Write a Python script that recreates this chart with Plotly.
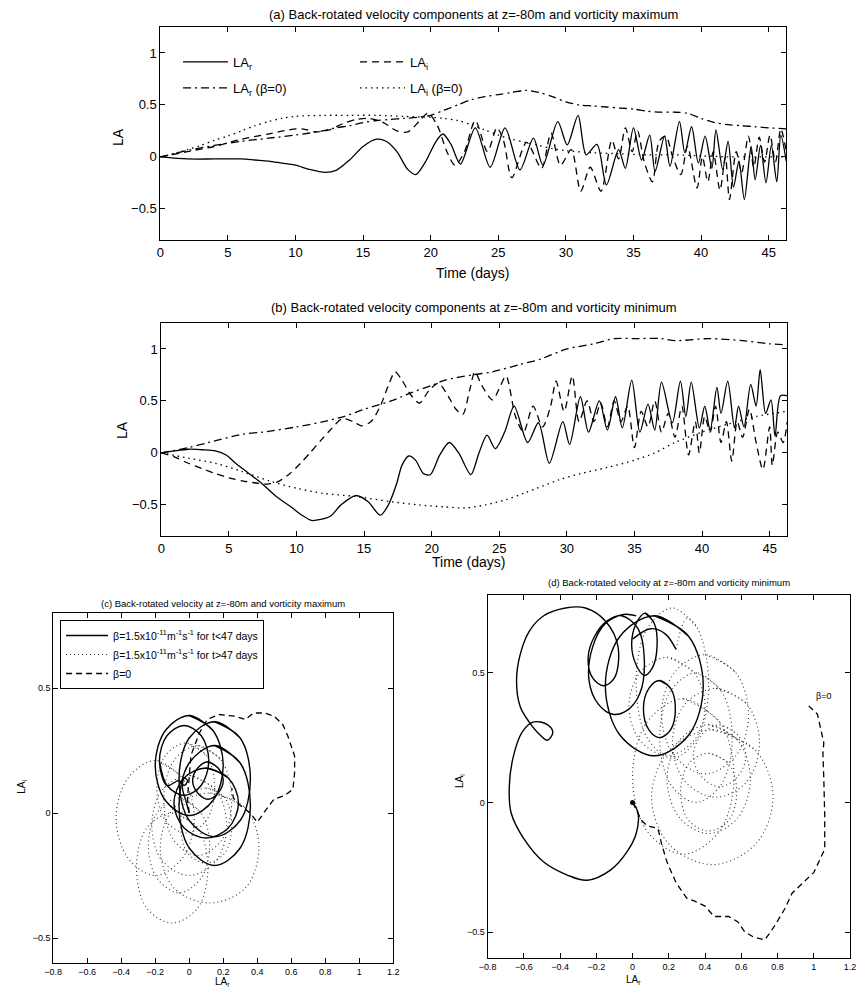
import plotly.graph_objects as go

W, H = 862, 993
FONT = "Liberation Sans, Arial, Helvetica, sans-serif"

# ---------------- (a) vorticity maximum: back-rotated components vs time ----------------
a_r_t = [0, 2, 4, 6, 7, 8, 9, 10, 11, 12.2, 13, 14, 15, 16, 16.7, 17.5, 18.3, 18.9, 19.6, 20.4,
         20.9, 21.5, 22.2, 23.3, 24.4, 25.5, 26.6, 27.6, 28.3, 29.4, 30.1, 30.9, 31.5, 32.3, 33.0,
         33.9, 34.4, 35.0, 35.6, 36.2, 36.6, 37.3, 37.7, 38.4, 38.8, 39.3, 39.8, 40.3, 40.8, 41.1,
         41.6, 42.0, 42.4, 42.8, 43.2, 43.7, 44.0, 44.4, 44.8, 45.2, 45.6, 45.9, 46.3]
a_r = [0, -0.02, -0.02, -0.02, -0.03, -0.04, -0.06, -0.08, -0.12, -0.15, -0.13, -0.03, 0.1, 0.17,
       0.15, 0.05, -0.12, -0.17, -0.05, 0.15, 0.22, 0.12, -0.07, 0.28, -0.1, 0.28, -0.125, 0.18,
       -0.08, 0.34, 0.115, 0.4, 0.02, 0.12, -0.27, 0.07, -0.11, 0.28, -0.03, 0.21, -0.14, 0.2,
       -0.09, 0.34, 0.04, 0.29, -0.06, 0.2, -0.11, 0.26, -0.12, 0.15, -0.29, -0.04, -0.41, 0.1,
       -0.22, 0.11, -0.25, 0.11, -0.24, 0.21, -0.04]

a_i_t = [0, 2, 4, 6, 8, 9.5, 10.5, 11.5, 12.5, 13.5, 14.5, 15.5, 16.5, 17.5, 18.3, 19.2, 19.8,
         20.5, 21.2, 21.8, 22.5, 23.3, 24.2, 24.9, 25.4, 26.0, 27.1, 28.2, 28.9, 29.6, 30.4, 31.1,
         31.8, 32.6, 33.4, 33.9, 34.4, 34.9, 35.3, 35.8, 36.4, 36.9, 37.4, 37.9, 38.5, 39.0, 39.7,
         40.1, 40.5, 40.9, 41.4, 41.8, 42.1, 42.6, 43.0, 43.5, 43.9, 44.3, 44.7, 45.1, 45.5, 45.9,
         46.3]
a_i = [0, 0.05, 0.1, 0.17, 0.22, 0.26, 0.27, 0.24, 0.26, 0.32, 0.36, 0.37, 0.33, 0.25, 0.24,
       0.35, 0.42, 0.3, 0.05, -0.08, 0.05, 0.35, 0.05, 0.28, 0.15, -0.2, 0.14, -0.11, 0.23, -0.08,
       0.07, -0.33, -0.1, -0.33, 0.16, -0.02, 0.28, 0.05, 0.25, -0.05, -0.24, 0.15, 0.2, 0.0,
       -0.17, 0.1, -0.3, 0.0, -0.24, 0.05, -0.32, 0.0, -0.41, 0.05, -0.15, 0.2, -0.1, 0.19, -0.05,
       0.21, -0.05, 0.27, 0.05]

a_r0_t = [0, 2, 4, 6, 8, 10, 12, 13, 14, 15, 16, 17, 18, 19, 20, 21, 22, 23, 24, 25, 26, 27, 28,
          29, 30, 31, 32, 33, 34, 35, 36, 37, 38, 39, 40, 41, 42, 43, 44, 45, 46.3]
a_r0 = [0, 0.06, 0.11, 0.15, 0.18, 0.21, 0.25, 0.28, 0.3, 0.33, 0.35, 0.36, 0.37, 0.38, 0.4, 0.45,
        0.5, 0.55, 0.58, 0.6, 0.62, 0.64, 0.62, 0.58, 0.53, 0.5, 0.49, 0.48, 0.47, 0.46, 0.44,
        0.43, 0.43, 0.42, 0.37, 0.33, 0.31, 0.3, 0.29, 0.28, 0.27]

a_i0_t = [0, 1, 2, 3, 4, 5, 6, 7, 8, 9, 10, 12, 14, 16, 18, 20, 21, 22, 23, 24, 25, 26, 27, 28,
          29, 30, 32, 34, 36, 38, 40, 42, 44, 46.3]
a_i0 = [0, 0.03, 0.07, 0.11, 0.16, 0.2, 0.25, 0.3, 0.34, 0.37, 0.39, 0.4, 0.4, 0.4, 0.39, 0.38,
        0.37, 0.35, 0.31, 0.26, 0.21, 0.17, 0.14, 0.11, 0.08, 0.06, 0.04, 0.03, 0.02, 0.02, 0.01,
        0.0, 0.0, 0.0]

# ---------------- (b) vorticity minimum ----------------
b_r_t = [0, 1, 2, 3, 4, 4.8, 5.5, 6.5, 7.4, 8.5, 9.6, 10.4, 11.1, 11.8, 12.5, 13.3, 14.4, 15.3,
         16.2, 16.8, 17.4, 17.8, 18.3, 18.8, 19.4, 19.9, 20.6, 21.3, 22.0, 22.9, 23.5, 24.1, 24.7,
         25.4, 26.1, 27.1, 27.9, 28.7, 29.7, 30.2, 31.0, 31.6, 32.4, 33.0, 33.6, 34.1, 34.8, 35.4,
         36.0, 36.5, 37.0, 37.8, 38.4, 38.8, 39.2, 39.8, 40.2, 40.6, 41.1, 41.4, 41.9, 42.4, 42.7,
         43.1, 43.6, 44.0, 44.3, 44.7, 45.1, 45.4, 45.8, 46.3]
b_r = [0, 0.02, 0.035, 0.03, 0.02, -0.02, -0.1, -0.2, -0.29, -0.42, -0.52, -0.6, -0.65, -0.64,
       -0.61, -0.5, -0.41, -0.47, -0.6, -0.5, -0.3, -0.12, -0.03, -0.07, -0.2, -0.21, -0.02, 0.1,
       0.0, -0.21, 0.0, 0.17, 0.04, 0.2, 0.45, 0.1, 0.29, -0.1, 0.3, 0.08, 0.54, 0.2, 0.5, 0.22,
       0.54, 0.24, 0.7, 0.2, 0.47, 0.22, 0.68, 0.29, 0.69, 0.35, 0.68, 0.24, 0.45, 0.22, 0.63,
       0.38, 0.69, 0.24, 0.45, 0.25, 0.66, 0.45, 0.8, 0.38, 0.51, 0.16, 0.55, 0.55]

b_i_t = [0, 1, 2, 3, 4, 5, 6, 7, 7.8, 8.6, 9.5, 10.3, 11, 11.8, 12.5, 13.4, 14.2, 14.8, 15.5,
         16.2, 16.8, 17.3, 17.8, 18.5, 19.1, 19.8, 20.5, 21.2, 21.8, 22.3, 22.8, 23.2, 23.7, 24.5,
         25.0, 25.5, 26.2, 26.8, 27.5, 28.2, 28.8, 29.2, 29.8, 30.4, 30.9, 31.5, 32.0, 32.5, 33.0,
         33.5, 34.0, 34.5, 35.0, 35.5, 36.0, 36.5, 37.0, 37.5, 38.0, 38.5, 39.0, 39.5, 39.8, 40.2,
         40.6, 41.0, 41.4, 41.8, 42.2, 42.6, 43.0, 43.5, 44.0, 44.5, 45.0, 45.2, 45.6, 46.0, 46.3]
b_i = [0, -0.04, -0.1, -0.15, -0.2, -0.24, -0.27, -0.29, -0.3, -0.28, -0.2, -0.1, 0.0, 0.12,
       0.22, 0.33, 0.3, 0.26, 0.3, 0.45, 0.65, 0.78, 0.7, 0.55, 0.48, 0.6, 0.67, 0.55, 0.42, 0.37,
       0.6, 0.78, 0.65, 0.51, 0.62, 0.74, 0.35, 0.2, 0.45, 0.25, 0.45, 0.69, 0.4, 0.74, 0.3, 0.5,
       0.3, 0.48, 0.25, 0.5, 0.3, 0.45, 0.05, 0.4, 0.25, 0.5, 0.2, 0.38, 0.15, 0.45, -0.02, 0.3,
       0.0, 0.35, 0.2, 0.45, 0.1, 0.3, -0.08, 0.3, 0.15, 0.42, 0.1, -0.16, 0.25, -0.12, 0.2, 0.1,
       0.3]

b_r0_t = [0, 2, 3.5, 6, 7.5, 10, 12, 13.5, 15, 17, 18.5, 20, 21, 23, 24.5, 26.5, 28, 30, 32,
          33.5, 35, 37, 38, 40.5, 43, 45, 46.3]
b_r0 = [0, 0.05, 0.1, 0.18, 0.2, 0.25, 0.3, 0.35, 0.42, 0.5, 0.58, 0.65, 0.7, 0.75, 0.78, 0.85,
        0.9, 1.0, 1.05, 1.1, 1.1, 1.1, 1.08, 1.1, 1.08, 1.05, 1.04]

b_i0_t = [0, 2, 4, 6, 8, 10, 12, 14.4, 17, 19, 21, 22.5, 24, 25.5, 27, 29.4, 31, 33, 35, 36.5,
          38, 40, 42, 44, 46.3]
b_i0 = [0, -0.05, -0.1, -0.18, -0.27, -0.34, -0.39, -0.42, -0.47, -0.5, -0.52, -0.53, -0.5,
        -0.45, -0.38, -0.26, -0.2, -0.14, -0.07, 0.0, 0.1, 0.2, 0.28, 0.35, 0.4]

# ---------------- (c) hodograph (LA_r, LA_i), vorticity maximum ----------------
# each inner list is one loop of the trajectory (closed, with a short overlap)
c_beta_early = [
    [(0, 0), (-0.02, 0.05), (-0.04, 0.1), (-0.03, 0.14), (-0.01, 0.13), (-0.03, 0.11),
     (-0.06, 0.13), (-0.13, 0.11), (-0.175, 0.21), (-0.13, 0.31), (-0.03, 0.35), (0.07, 0.31),
     (0.115, 0.21), (0.07, 0.11), (-0.03, 0.07), (-0.13, 0.11), (-0.175, 0.21)],
    [(0, 0.39), (0.14, 0.33), (0.2, 0.19), (0.14, 0.05), (0, -0.01), (-0.14, 0.05), (-0.2, 0.19),
     (-0.14, 0.33), (0, 0.39), (0.14, 0.33)],
    [(0.15, 0.365), (0.3, 0.3), (0.36, 0.135), (0.3, -0.03), (0.15, -0.095), (0.0, -0.03),
     (-0.06, 0.135), (0.0, 0.3), (0.15, 0.365), (0.3, 0.3)],
    [(0.15, 0.27), (0.3, 0.2), (0.36, 0.03), (0.3, -0.14), (0.15, -0.21), (0.0, -0.14),
     (-0.06, 0.03), (0.0, 0.2), (0.15, 0.27), (0.3, 0.2)],
    [(0.1, 0.18), (0.23, 0.14), (0.29, 0.04), (0.23, -0.06), (0.1, -0.1), (-0.03, -0.06),
     (-0.09, 0.04), (-0.03, 0.14), (0.1, 0.18), (0.23, 0.14)],
    [(0.11, 0.205), (0.17, 0.18), (0.2, 0.13), (0.17, 0.08), (0.11, 0.055), (0.05, 0.08),
     (0.02, 0.13), (0.05, 0.18), (0.11, 0.205), (0.17, 0.18)],
]

c_beta_late = [
    [(-0.02, 0.28), (0.1, 0.23), (0.15, 0.1), (0.1, -0.03), (-0.02, -0.08), (-0.14, -0.03),
     (-0.19, 0.1), (-0.14, 0.23), (-0.02, 0.28), (0.1, 0.23)],
    [(0.05, 0.27), (0.19, 0.21), (0.25, 0.05), (0.19, -0.11), (0.05, -0.17), (-0.09, -0.11),
     (-0.15, 0.05), (-0.09, 0.21), (0.05, 0.27), (0.19, 0.21)],
    [(0.0, 0.15), (0.16, 0.09), (0.22, -0.05), (0.16, -0.19), (0.0, -0.25), (-0.16, -0.19),
     (-0.22, -0.05), (-0.16, 0.09), (0.0, 0.15), (0.16, 0.09)],
    [(-0.06, 0.06), (0.07, 0.0), (0.12, -0.13), (0.07, -0.26), (-0.06, -0.32), (-0.19, -0.26),
     (-0.24, -0.13), (-0.19, 0.0), (-0.06, 0.06), (0.07, 0.0)],
    [(-0.2, 0.21), (-0.04, 0.14), (0.03, -0.02), (-0.04, -0.18), (-0.2, -0.25), (-0.36, -0.18),
     (-0.43, -0.02), (-0.36, 0.14), (-0.2, 0.21), (-0.04, 0.14)],
    [(-0.1, 0.0), (0.05, -0.06), (0.11, -0.22), (0.05, -0.38), (-0.1, -0.44), (-0.25, -0.38),
     (-0.31, -0.22), (-0.25, -0.06), (-0.1, 0.0), (0.05, -0.06)],
    [(0.1, 0.1), (0.21, 0.06), (0.25, -0.05), (0.21, -0.16), (0.1, -0.2), (-0.01, -0.16),
     (-0.05, -0.05), (-0.01, 0.06), (0.1, 0.1), (0.21, 0.06)],
    [(0.12, 0.08), (0.33, 0.02), (0.41, -0.14), (0.33, -0.3), (0.12, -0.36), (-0.09, -0.3),
     (-0.17, -0.14), (-0.09, 0.02), (0.12, 0.08), (0.33, 0.02)],
]

c_beta0 = [(0, 0), (-0.01, 0.056), (0.01, 0.23), (0.06, 0.32), (0.106, 0.374), (0.174, 0.394),
           (0.27, 0.387), (0.33, 0.374), (0.377, 0.4), (0.445, 0.4), (0.5, 0.387), (0.55, 0.354),
           (0.58, 0.308), (0.62, 0.228), (0.62, 0.16), (0.61, 0.095), (0.56, 0.069), (0.5, 0.056),
           (0.47, 0.03), (0.43, -0.01), (0.4, -0.037), (0.36, 0.0), (0.3, 0.03), (0.26, 0.06),
           (0.25, 0.1)]

# ---------------- (d) hodograph, vorticity minimum ----------------
d_beta_early = [
    [(0, 0), (0.03, -0.04), (0.02, -0.12), (-0.03, -0.19), (-0.12, -0.26), (-0.25, -0.3),
     (-0.36, -0.28), (-0.49, -0.23), (-0.6, -0.14), (-0.67, -0.04), (-0.68, 0.06), (-0.66, 0.17),
     (-0.61, 0.27), (-0.55, 0.31), (-0.47, 0.3), (-0.44, 0.27), (-0.47, 0.24), (-0.51, 0.26),
     (-0.57, 0.31), (-0.62, 0.37), (-0.64, 0.47), (-0.62, 0.57), (-0.57, 0.66), (-0.49, 0.72),
     (-0.37, 0.75), (-0.26, 0.75), (-0.15, 0.7), (-0.08, 0.6), (-0.1, 0.48), (-0.16, 0.45),
     (-0.22, 0.48), (-0.245, 0.56), (-0.21, 0.64), (-0.14, 0.7), (-0.06, 0.72), (0.03, 0.67),
     (0.065, 0.55), (0.04, 0.42), (-0.03, 0.355), (-0.11, 0.34), (-0.19, 0.38), (-0.24, 0.47),
     (-0.22, 0.6), (-0.15, 0.69), (-0.05, 0.725), (0.02, 0.72)],
    [(0.07, 0.73), (0.12, 0.69), (0.135, 0.6), (0.11, 0.52), (0.065, 0.49), (0.02, 0.53),
     (-0.005, 0.61), (0.02, 0.69), (0.07, 0.73), (0.12, 0.69)],
    [(0.12, 0.72), (0.31, 0.64), (0.39, 0.45), (0.31, 0.26), (0.12, 0.18), (-0.07, 0.26),
     (-0.15, 0.45), (-0.07, 0.64), (0.12, 0.72), (0.31, 0.64)],
    [(0.15, 0.47), (0.21, 0.44), (0.236, 0.36), (0.21, 0.28), (0.15, 0.25), (0.09, 0.28),
     (0.06, 0.36), (0.09, 0.44), (0.15, 0.47), (0.21, 0.44)],
    [(0.0, 0.63), (0.1, 0.67), (0.18, 0.65), (0.24, 0.59)],
]

d_beta_late = [
    [(0.24, 0.59), (0.3, 0.71), (0.36, 0.67), (0.42, 0.46), (0.36, 0.25), (0.22, 0.17),
     (0.08, 0.25), (0.02, 0.46), (0.08, 0.67), (0.22, 0.75), (0.36, 0.67)],
    [(0.19, 0.56), (0.34, 0.5), (0.4, 0.37), (0.34, 0.24), (0.19, 0.18), (0.04, 0.24),
     (-0.02, 0.37), (0.04, 0.5), (0.19, 0.56), (0.34, 0.5)],
    [(0.4, 0.57), (0.57, 0.5), (0.64, 0.34), (0.57, 0.18), (0.4, 0.11), (0.23, 0.18),
     (0.16, 0.34), (0.23, 0.5), (0.4, 0.57), (0.57, 0.5)],
    [(0.46, 0.44), (0.63, 0.38), (0.7, 0.23), (0.63, 0.08), (0.46, 0.02), (0.29, 0.08),
     (0.22, 0.23), (0.29, 0.38), (0.46, 0.44), (0.63, 0.38)],
    [(0.28, 0.4), (0.48, 0.31), (0.56, 0.1), (0.48, -0.11), (0.28, -0.2), (0.08, -0.11),
     (0.0, 0.1), (0.08, 0.31), (0.28, 0.4), (0.48, 0.31)],
    [(0.44, 0.28), (0.68, 0.2), (0.775, 0.02), (0.68, -0.16), (0.44, -0.24), (0.2, -0.16),
     (0.105, 0.02), (0.2, 0.2), (0.44, 0.28), (0.68, 0.2)],
    [(0.42, 0.3), (0.58, 0.24), (0.65, 0.09), (0.58, -0.06), (0.42, -0.12), (0.26, -0.06),
     (0.19, 0.09), (0.26, 0.24), (0.42, 0.3), (0.58, 0.24)],
    [(0.42, 0.19), (0.53, 0.15), (0.575, 0.04), (0.53, -0.07), (0.42, -0.11), (0.31, -0.07),
     (0.265, 0.04), (0.31, 0.15), (0.42, 0.19), (0.53, 0.15)],
    [(0.48, 0.3), (0.58, 0.26), (0.625, 0.18), (0.58, 0.1), (0.48, 0.06), (0.38, 0.1),
     (0.335, 0.18), (0.38, 0.26), (0.48, 0.3), (0.58, 0.26)],
    [(0.35, 0.5), (0.49, 0.43), (0.55, 0.25), (0.49, 0.07), (0.35, 0.0), (0.21, 0.07),
     (0.15, 0.25), (0.21, 0.43), (0.35, 0.5), (0.49, 0.43)],
]

d_beta0 = [(0, 0), (0.05, -0.07), (0.08, -0.09), (0.14, -0.1), (0.16, -0.16), (0.19, -0.23),
           (0.24, -0.31), (0.3, -0.37), (0.34, -0.38), (0.4, -0.4), (0.45, -0.44), (0.53, -0.44),
           (0.58, -0.46), (0.62, -0.5), (0.67, -0.52), (0.73, -0.53), (0.78, -0.48), (0.84, -0.41),
           (0.88, -0.35), (0.94, -0.31), (1.0, -0.27), (1.06, -0.18), (1.06, -0.05), (1.055, 0.09),
           (1.05, 0.19), (1.055, 0.23), (1.02, 0.34), (0.99, 0.36), (0.96, 0.38)]

time_ticks = [0, 5, 10, 15, 20, 25, 30, 35, 40, 45]
la_ticks = [-0.5, 0, 0.5, 1]
hodo_xticks = [-0.8, -0.6, -0.4, -0.2, 0, 0.2, 0.4, 0.6, 0.8, 1, 1.2]
hodo_yticks = [-0.5, 0, 0.5]

BETA_EARLY = "\u03b2=1.5x10<sup>-11</sup>m<sup>-1</sup>s<sup>-1</sup> for t&lt;47 days"
BETA_LATE = "\u03b2=1.5x10<sup>-11</sup>m<sup>-1</sup>s<sup>-1</sup> for t&gt;47 days"


def split_xy(pts):
    return [p[0] for p in pts], [p[1] for p in pts]


def loops_xy(loops):
    xs, ys = [], []
    for k, loop in enumerate(loops):
        if k:
            xs.append(None)
            ys.append(None)
        lx, ly = split_xy(loop)
        xs += lx
        ys += ly
    return xs, ys


DASH = "7px,5px"
DOT = "1.5px,4px"
DASHDOT = "8px,4px,2px,4px"

fig = go.Figure()


def series(x, y, ax, dash, name=None, legend=None, width=1.3, shape="spline", color="black",
           smoothing=0.8):
    fig.add_trace(go.Scatter(
        x=x, y=y, xaxis="x" + ax, yaxis="y" + ax, mode="lines",
        line=dict(color=color, width=width, dash=dash, shape=shape, smoothing=smoothing),
        name=name, showlegend=name is not None,
        legend=legend, hoverinfo="skip"))


# (a)
series(a_r_t, a_r, "", "solid", "LA<sub>r</sub>", "legend")
series(a_i_t, a_i, "", DASH, "LA<sub>i</sub>", "legend")
series(a_r0_t, a_r0, "", DASHDOT, "LA<sub>r</sub> (\u03b2=0)", "legend3")
series(a_i0_t, a_i0, "", DOT, "LA<sub>i</sub> (\u03b2=0)", "legend3")
# (b)
series(b_r_t, b_r, "2", "solid")
series(b_i_t, b_i, "2", DASH)
series(b_r0_t, b_r0, "2", DASHDOT)
series(b_i0_t, b_i0, "2", DOT)
# (c)
cx, cy = loops_xy(c_beta_early)
series(cx, cy, "3", "solid", BETA_EARLY, "legend2", width=1.4, smoothing=1.0)
cx, cy = loops_xy(c_beta_late)
series(cx, cy, "3", "1px,3px", BETA_LATE, "legend2", width=1.1, color="#333", smoothing=1.0)
cx, cy = split_xy(c_beta0)
series(cx, cy, "3", "6px,4px", "\u03b2=0", "legend2", width=1.3, shape="linear")
# (d)
dx, dy = loops_xy(d_beta_early)
series(dx, dy, "4", "solid", width=1.4, smoothing=1.0)
dx, dy = loops_xy(d_beta_late)
series(dx, dy, "4", "1px,3px", width=1.1, color="#333", smoothing=1.0)
dx, dy = split_xy(d_beta0)
series(dx, dy, "4", "6px,4px", width=1.3, shape="linear")
fig.add_trace(go.Scatter(x=[d_beta_early[0][0][0]], y=[d_beta_early[0][0][1]], xaxis="x4",
                         yaxis="y4", mode="markers", marker=dict(color="black", size=5),
                         showlegend=False, hoverinfo="skip"))


def dom_x(a, b):
    return [a / W, b / W]


def dom_y(top, bottom):
    return [1 - bottom / H, 1 - top / H]


def axis(domain, rng, ticks, anchor, size):
    return dict(domain=domain, range=rng, tickvals=ticks, anchor=anchor,
                showline=True, linecolor="black", linewidth=1, mirror="allticks",
                ticks="inside", ticklen=5, tickwidth=1, tickcolor="black",
                showgrid=False, zeroline=False, fixedrange=True,
                tickfont=dict(size=size, color="black", family=FONT))


def label(text, x, y, size, angle=0, anchor="center", ref="paper"):
    return dict(text=text, x=x if ref != "paper" else x / W,
                y=y if ref != "paper" else 1 - y / H,
                xref=ref if ref == "paper" else "x4", yref=ref if ref == "paper" else "y4",
                showarrow=False, textangle=angle, xanchor=anchor, yanchor="middle",
                font=dict(size=size, color="black", family=FONT))


annotations = [
    label("(a) Back-rotated velocity components at z=-80m and vorticity maximum", 473, 15, 13),
    label("(b) Back-rotated velocity components at z=-80m and vorticity minimum", 473, 307, 13),
    label("Time (days)", 472, 273, 14),
    label("Time (days)", 468, 562, 14),
    label("LA", 111, 137, 14, angle=-90),
    label("LA", 115, 430, 14, angle=-90),
    label("(c) Back-rotated velocity at z=-80m and vorticity maximum", 218, 603, 9.5),
    label("(d) Back-rotated velocity at z=-80m and vorticity minimum", 672, 582, 9.5),
    label("LA<sub>r</sub>", 217, 982, 10),
    label("LA<sub>i</sub>", 13, 787, 10, angle=-90),
    label("LA<sub>r</sub>", 636, 980, 10),
    label("LA<sub>i</sub>", 459, 781, 10, angle=-90),
    label("\u03b2=0", 1.0, 0.41, 9, anchor="left", ref="x4"),
]

legend_common = dict(bgcolor="rgba(0,0,0,0)", font=dict(size=13, color="black", family=FONT),
                     orientation="h", xanchor="left", yanchor="top", itemwidth=45,
                     entrywidth=117, entrywidthmode="pixels")

fig.update_layout(
    width=W, height=H, margin=dict(l=0, r=0, t=0, b=0),
    paper_bgcolor="white", plot_bgcolor="white",
    font=dict(family=FONT, color="black"),
    xaxis=axis(dom_x(154, 791), [0, 46.3], time_ticks, "y", 13),
    yaxis=axis(dom_y(27, 240), [-0.8, 1.25], la_ticks, "x", 13),
    xaxis2=axis(dom_x(155, 792), [0, 46.3], time_ticks, "y2", 13),
    yaxis2=axis(dom_y(323, 536), [-0.8, 1.25], la_ticks, "x2", 13),
    xaxis3=axis(dom_x(45, 391), [-0.8, 1.2], hodo_xticks, "y3", 9),
    yaxis3=axis(dom_y(613, 963), [-0.6, 0.8], hodo_yticks, "x3", 9),
    xaxis4=axis(dom_x(487, 856), [-0.8, 1.2], hodo_xticks, "y4", 9),
    yaxis4=axis(dom_y(595, 958), [-0.6, 0.8], hodo_yticks, "x4", 9),
    legend=dict(legend_common, x=172 / W, y=1 - 47 / H),
    legend3=dict(legend_common, x=172 / W, y=1 - 73 / H),
    legend2=dict(x=52 / W, y=1 - 620 / H, xanchor="left", yanchor="top",
                 bgcolor="white", bordercolor="black", borderwidth=1, itemwidth=42,
                 font=dict(size=10.5, color="black", family=FONT), tracegroupgap=0),
    annotations=annotations,
    showlegend=True,
)

fig.write_html("out.html")
